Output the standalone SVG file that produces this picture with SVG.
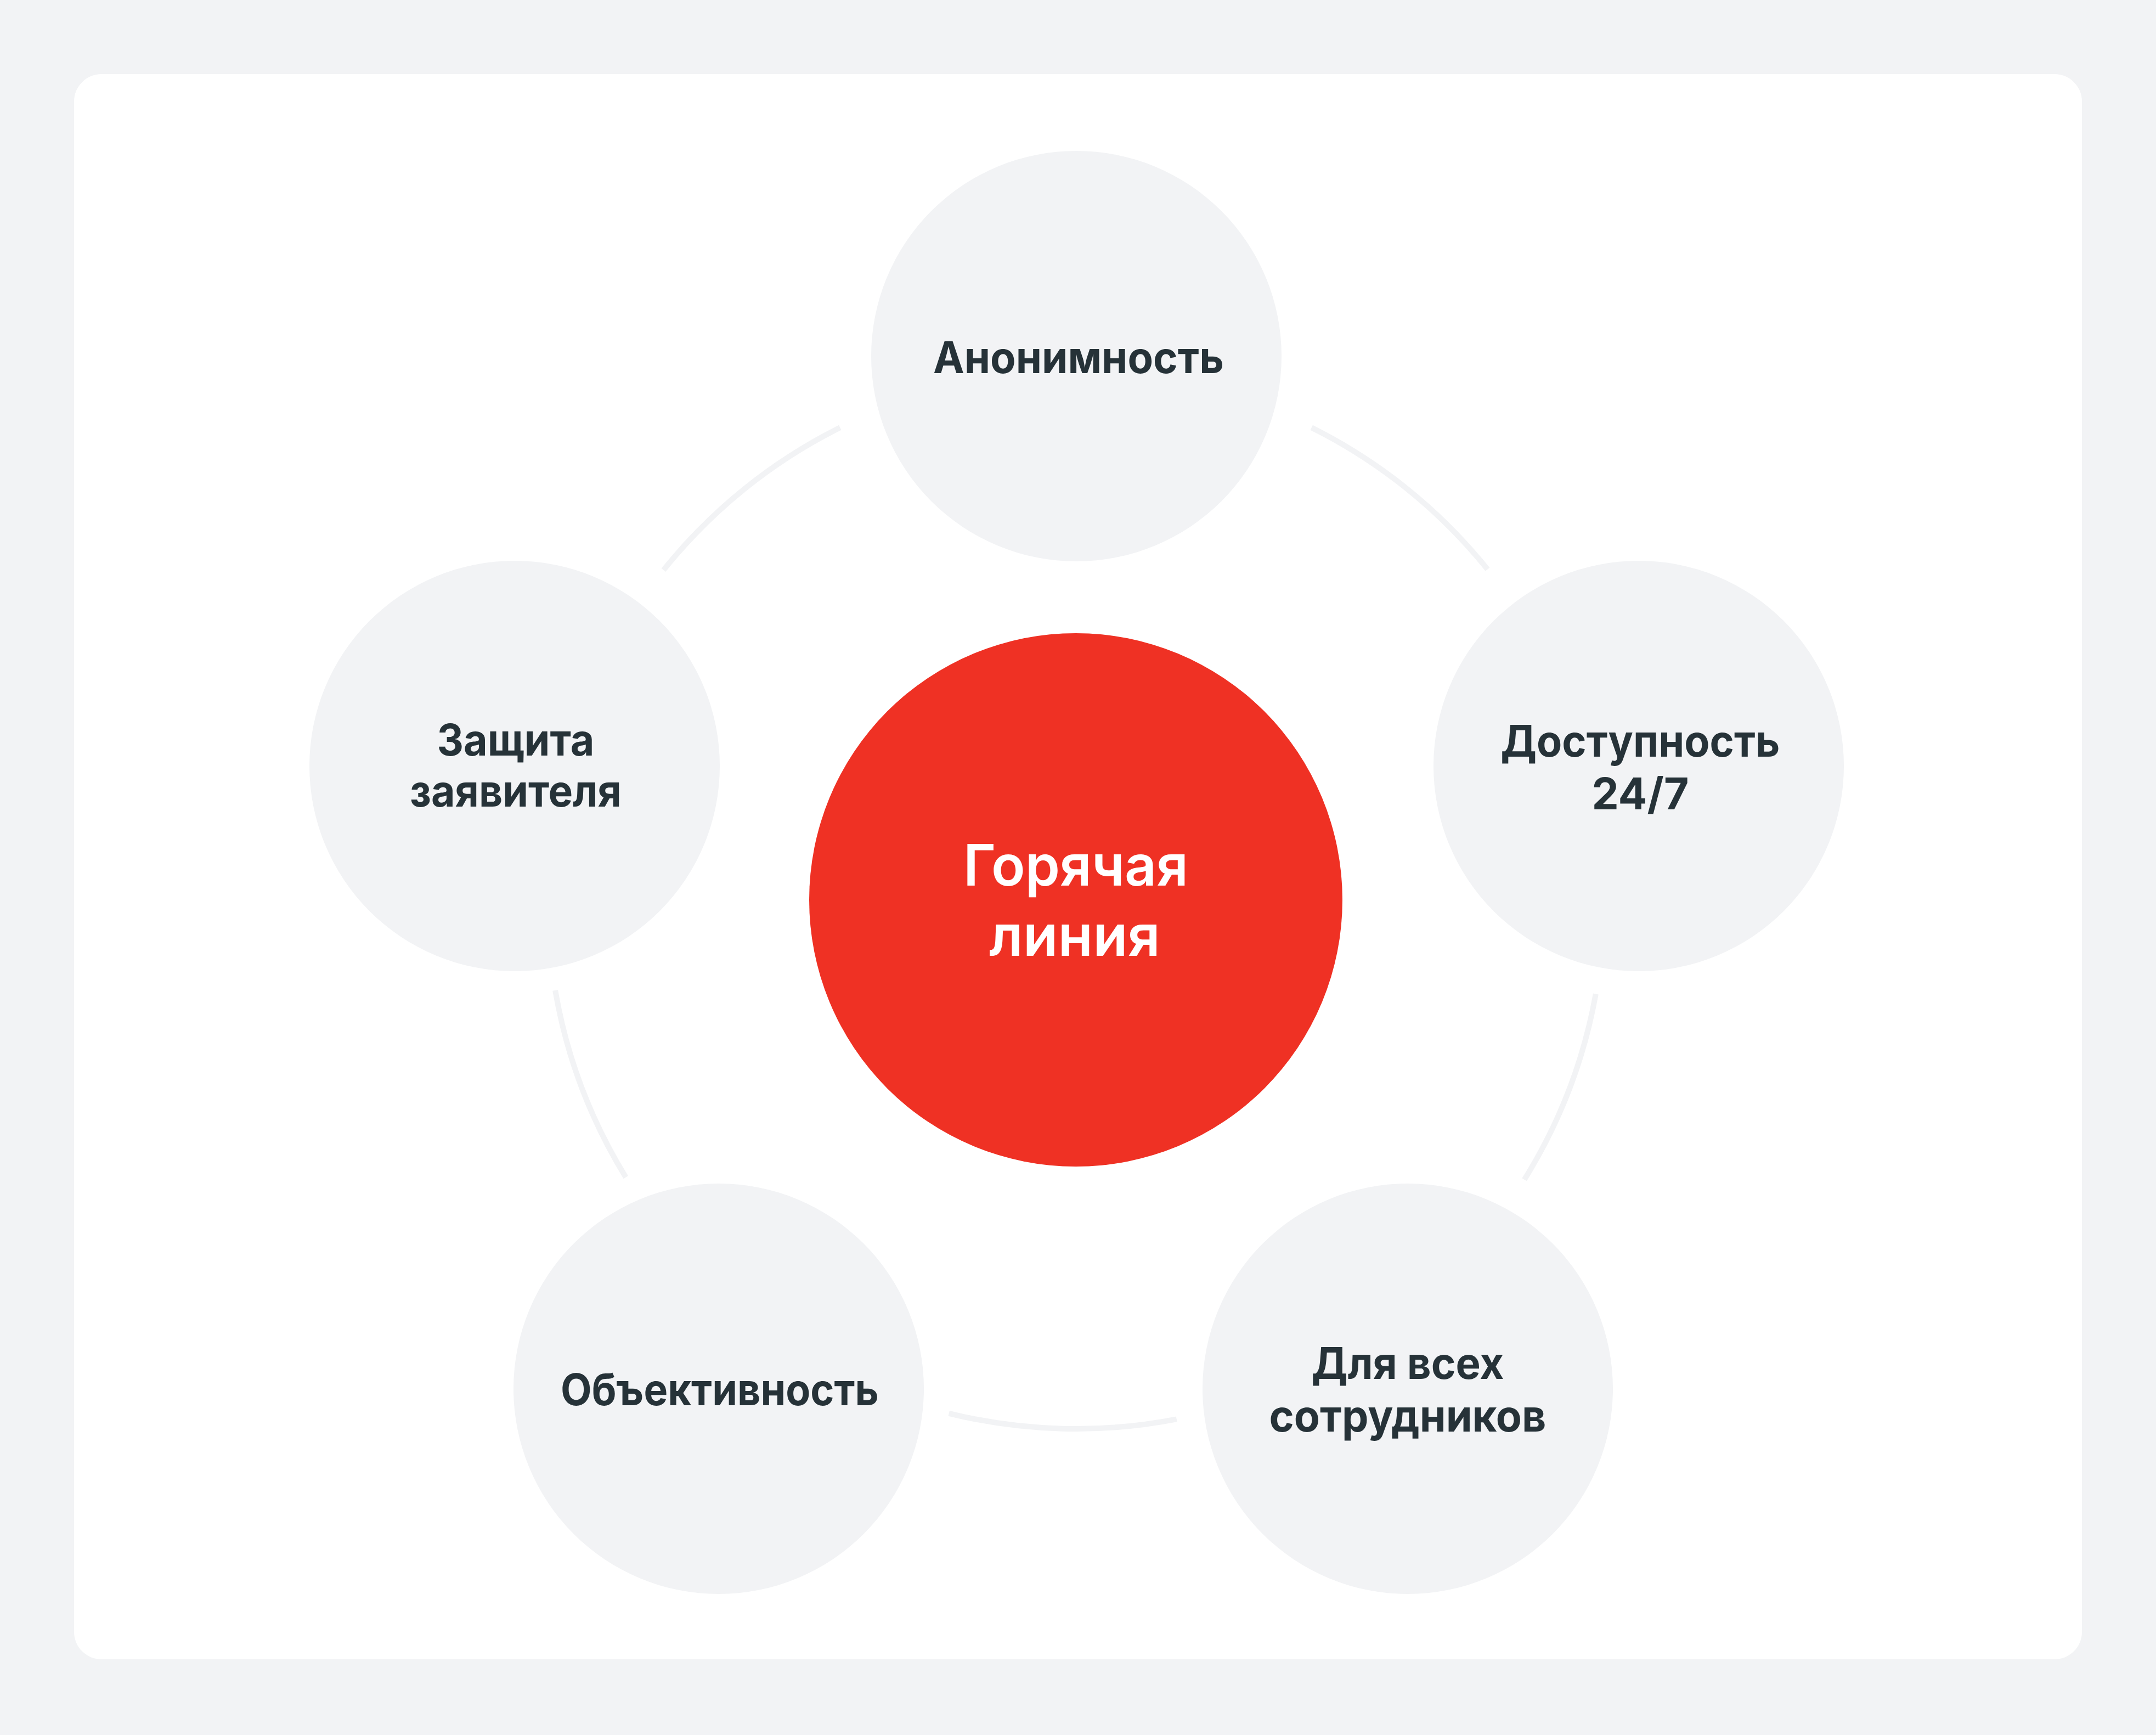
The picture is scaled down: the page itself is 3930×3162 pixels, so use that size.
<svg xmlns="http://www.w3.org/2000/svg" width="3930" height="3162" viewBox="0 0 3930 3162">
<style>
.bg{fill:#f2f3f5}
.card{fill:#ffffff}
.node{fill:#f2f3f5}
.hub{fill:#ef3124}
.arc{fill:none;stroke:#f2f3f5;stroke-width:10}
.lbl{font-family:Inter,"Noto Sans",sans-serif;font-weight:700;font-size:80px;fill:#263238;text-anchor:middle}
.hubt{font-family:Inter,"Noto Sans",sans-serif;font-weight:600;font-size:104px;fill:#ffffff;text-anchor:middle}
</style>
<rect class="bg" x="0" y="0" width="3930" height="3162"/>
<rect class="card" x="135" y="135" width="3660" height="2889" rx="50" ry="50"/>
<g id="connectors">
<path class="arc" d="M1209.5 1038.9 A963 963 0 0 1 1531.3 779.2"/>
<path class="arc" d="M2390.7 779.2 A963 963 0 0 1 2711.5 1037.6"/>
<path class="arc" d="M2908.8 1811.5 A963 963 0 0 1 2778.6 2149.8"/>
<path class="arc" d="M2144.7 2586.3 A963 963 0 0 1 1729.7 2575.8"/>
<path class="arc" d="M1140.8 2145.6 A963 963 0 0 1 1012.1 1804.9"/>
</g>
<g id="hub">
<circle class="hub" cx="1961" cy="1640" r="486"/>
<text class="hubt" x="1961" y="1614" textLength="410" lengthAdjust="spacingAndGlyphs">Горячая</text>
<text class="hubt" x="1959" y="1742" textLength="312" lengthAdjust="spacingAndGlyphs">линия</text>
</g>
<g id="node-anonymity">
<circle class="node" cx="1962" cy="649" r="374"/>
<text class="lbl" x="1966" y="680" textLength="530" lengthAdjust="spacingAndGlyphs">Анонимность</text>
</g>
<g id="node-availability">
<circle class="node" cx="2987" cy="1396" r="374"/>
<text class="lbl" x="2990" y="1379" textLength="509" lengthAdjust="spacingAndGlyphs">Доступность</text>
<text class="lbl" x="2990" y="1475" textLength="177" lengthAdjust="spacingAndGlyphs">24/7</text>
</g>
<g id="node-all-employees">
<circle class="node" cx="2566" cy="2531" r="374"/>
<text class="lbl" x="2566" y="2513" textLength="351" lengthAdjust="spacingAndGlyphs">Для всех</text>
<text class="lbl" x="2566" y="2609" textLength="505" lengthAdjust="spacingAndGlyphs">сотрудников</text>
</g>
<g id="node-objectivity">
<circle class="node" cx="1310" cy="2531" r="374"/>
<text class="lbl" x="1312" y="2561" textLength="580" lengthAdjust="spacingAndGlyphs">Объективность</text>
</g>
<g id="node-protection">
<circle class="node" cx="938" cy="1396" r="374"/>
<text class="lbl" x="940" y="1377" textLength="287" lengthAdjust="spacingAndGlyphs">Защита</text>
<text class="lbl" x="940" y="1470" textLength="386" lengthAdjust="spacingAndGlyphs">заявителя</text>
</g>
</svg>
